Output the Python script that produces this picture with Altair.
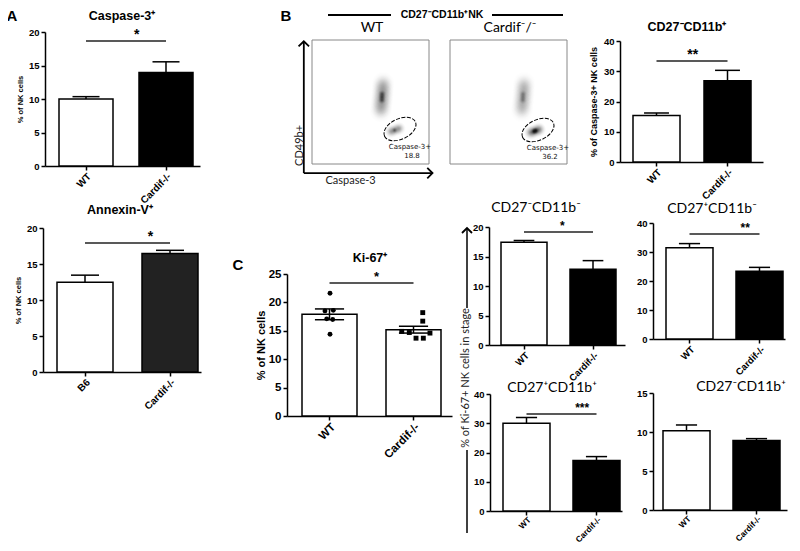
import altair as alt
import pandas as pd

# ====================== DATA ======================
GROUPS = ["WT", "Cardif-/-"]
GROUPS_B6 = ["B6", "Cardif-/-"]

casp3_mean = [10.0, 13.95]
casp3_sem = [0.35, 1.6]
casp3_sig = ("*", 18.66)

annexin_mean = [12.45, 16.45]
annexin_sem = [1.0, 0.45]
annexin_sig = ("*", 17.9)

late_casp3_mean = [15.4, 26.9]
late_casp3_sem = [0.8, 3.4]
late_casp3_sig = ("**", 33.4)

ki67_mean = [17.9, 15.2]
ki67_sem = [0.95, 0.6]
ki67_sig = ("*", 23.4)
ki67_wt_values = [21.6, 18.5, 18.6, 17.1, 17.0, 14.4]
ki67_wt_spread = [0.006, -0.054, 0.045, -0.033, 0.038, 0.006]
ki67_ko_values = [18.2, 16.7, 14.9, 14.7, 13.7, 13.7, 14.6]
ki67_ko_spread = [0.11, 0.11, -0.14, -0.05, 0.03, 0.117, 0.196]

stage_names = ["CD27⁻CD11b⁻", "CD27⁺CD11b⁻", "CD27⁺CD11b⁺", "CD27⁻CD11b⁺"]
stage_mean = [[17.4, 12.85], [31.5, 23.4], [30.0, 17.3], [10.15, 8.9]]
stage_sem = [[0.3, 1.45], [1.4, 1.3], [2.0, 1.3], [0.75, 0.25]]
stage_ymax = [20, 40, 40, 15]
stage_ticks = [[0, 5, 10, 15, 20], [0, 10, 20, 30, 40], [0, 10, 20, 30, 40], [0, 5, 10, 15]]
stage_sig = [("*", 19.15), ("**", 36.2), ("***", 33.2), None]

flow_groups = ["WT", "Cardif⁻/⁻"]
gate_pct = [18.8, 36.2]
gate_center = [(0.752, 0.282), (0.752, 0.274)]
# density cells of the two populations:
# (group, Caspase-3 rel., CD49b rel., spread rel. to plot width, density)
density_cells = [
    # WT, CD49b+ Caspase-3- population: halo
    (0, 0.588, 0.427, 0.22, 0.16), (0, 0.591, 0.459, 0.22, 0.18), (0, 0.594, 0.492, 0.22, 0.2),
    (0, 0.598, 0.524, 0.22, 0.2), (0, 0.601, 0.556, 0.22, 0.2), (0, 0.604, 0.589, 0.22, 0.2),
    (0, 0.606, 0.621, 0.22, 0.18), (0, 0.608, 0.653, 0.22, 0.16),
    # WT, CD49b+ Caspase-3- population: core
    (0, 0.597, 0.515, 0.08, 0.55), (0, 0.598, 0.540, 0.08, 0.6), (0, 0.599, 0.565, 0.08, 0.55),
    # WT, Caspase-3+ population
    (0, 0.676, 0.262, 0.13, 0.35), (0, 0.710, 0.274, 0.13, 0.35), (0, 0.744, 0.286, 0.13, 0.35),
    (0, 0.705, 0.272, 0.06, 0.40),
    # Cardif-/-, CD49b+ Caspase-3- population: halo
    (1, 0.614, 0.427, 0.22, 0.12), (1, 0.617, 0.459, 0.22, 0.14), (1, 0.620, 0.492, 0.22, 0.15),
    (1, 0.624, 0.524, 0.22, 0.15), (1, 0.627, 0.556, 0.22, 0.15), (1, 0.630, 0.589, 0.22, 0.15),
    (1, 0.632, 0.621, 0.22, 0.14), (1, 0.634, 0.653, 0.22, 0.12),
    # Cardif-/-, CD49b+ Caspase-3- population: core
    (1, 0.622, 0.515, 0.08, 0.3), (1, 0.623, 0.540, 0.08, 0.3), (1, 0.624, 0.565, 0.08, 0.3),
    # Cardif-/-, Caspase-3+ population
    (1, 0.692, 0.254, 0.14, 0.45), (1, 0.726, 0.266, 0.14, 0.45), (1, 0.760, 0.278, 0.14, 0.45),
    (1, 0.718, 0.263, 0.07, 0.90), (1, 0.734, 0.269, 0.07, 0.90),
]

# ====================== LAYOUT (reference page pixels) ======================
W, H, M = 784, 535, 8
ARIAL = "Liberation Sans"
CAL = "Lato"

LAYOUT = {
    "A1": {"ax": (45, 200), "y0": 166, "ytop": 32, "bars": (59, 113, 139)},
    "A2": {"ax": (43, 201), "y0": 372, "ytop": 228, "bars": (57, 113, 142)},
    "B": {"ax": (620, 763), "y0": 162, "ytop": 41, "bars": (633, 680, 704)},
    "K": {"ax": (287, 452), "y0": 416, "ytop": 274, "bars": (302, 357, 386)},
    "C1": {"ax": (489, 625), "y0": 345, "ytop": 227, "bars": (501, 547, 570)},
    "C2": {"ax": (653, 785), "y0": 339, "ytop": 223, "bars": (666, 713, 736)},
    "C3": {"ax": (490, 622), "y0": 511, "ytop": 394, "bars": (503, 550, 573)},
    "C4": {"ax": (653, 787), "y0": 510, "ytop": 393, "bars": (663, 710, 733)},
    "flow": [(312, 429, 40, 164), (450, 567, 40, 164)],
}


def pc(v):
    return v - M


def band(ax0, ax1, b1, e1, b2):
    step = b2 - b1
    bw = e1 - b1
    pi = 1 - bw / step
    span = ax1 - ax0
    po = max(0.0, (span / step - (2 - pi)) / 2)
    left = span - step * (2 - pi)
    al = min(1.0, max(0.0, (b1 - ax0) / left)) if left > 0 else 0.5
    return pi, po, al, step, bw


def axis_style(fs):
    return dict(labelFont=ARIAL, labelFontWeight="bold", labelFontSize=fs, labelColor="black",
                domainColor="black", domainWidth=1.5, tickColor="black", tickWidth=1.5,
                tickSize=4, grid=False)


def bar_panel(key, cats, means, sems, fills, ticks, ymax, ytitle=None, sig=None,
              both=False, xfs=10, yfs=9.5, tfs=7.5, tpad=4, cap_frac=0.5, star_fs=14, lpad=1):
    P = LAYOUT[key]
    ax0, ax1 = P["ax"]
    b1, e1, b2 = P["bars"]
    pi, po, al, step, bw = band(ax0, ax1, b1, e1, b2)

    def xs():
        return alt.Scale(domain=cats, range=[pc(ax0), pc(ax1)], paddingInner=pi,
                         paddingOuter=po, align=al)

    def ys():
        return alt.Scale(domain=[0, ymax], range=[pc(P["y0"]), pc(P["ytop"])], nice=False, zero=False)

    xaxis = alt.Axis(orient="bottom", offset=pc(P["y0"]) - H, title=None, labelAngle=315,
                     labelPadding=lpad, **axis_style(xfs))
    yargs = dict(orient="left", offset=-pc(ax0), values=ticks, labelPadding=2, **axis_style(yfs))
    if ytitle:
        yargs.update(title=ytitle, titleFont=ARIAL, titleFontWeight="bold", titleFontSize=tfs,
                     titleColor="black", titlePadding=tpad)
    else:
        yargs.update(title=None)
    yaxis = alt.Axis(**yargs)

    df = pd.DataFrame({"g": cats, "m": means,
                       "hi": [m + s for m, s in zip(means, sems)],
                       "lo": [m - s for m, s in zip(means, sems)],
                       "f": fills})

    def X(axis=None):
        return alt.X("g:N", scale=xs(), axis=axis, sort=cats)

    def Y(f, axis=None):
        return alt.Y(f, scale=ys(), axis=axis)

    layers = [
        alt.Chart(df).mark_bar(stroke="black", strokeWidth=1.5).encode(
            x=X(xaxis), y=Y("m:Q", yaxis), fill=alt.Fill("f:N", scale=None)),
        alt.Chart(df).mark_rule(color="black", strokeWidth=1.5).encode(
            x=X(), y=Y("lo:Q" if both else "m:Q"), y2="hi"),
    ]
    caps = [{"g": g, "v": h} for g, h in zip(cats, df["hi"])]
    if both:
        caps += [{"g": g, "v": lo} for g, lo in zip(cats, df["lo"])]
    layers.append(alt.Chart(pd.DataFrame(caps)).mark_tick(
        color="black", thickness=1.5, size=bw * cap_frac, opacity=1).encode(x=X(), y=Y("v:Q")))
    if sig:
        sdf = pd.DataFrame({"g": [cats[0]], "g2": [cats[1]], "v": [sig[1]], "t": [sig[0]]})
        layers.append(alt.Chart(sdf).mark_rule(color="#222", strokeWidth=1.5).encode(
            x=X(), x2="g2", y=Y("v:Q")))
        layers.append(alt.Chart(sdf).mark_text(
            font=ARIAL, fontWeight="bold", fontSize=star_fs, dx=step / 2, dy=-6,
            align="center", baseline="middle", color="black").encode(
            x=X(), y=Y("v:Q"), text="t:N"))
    return layers


# ---------------- bar panels ----------------
units = []
units += bar_panel("A1", GROUPS, casp3_mean, casp3_sem, ["white", "black"],
                   [0, 5, 10, 15, 20], 20, ytitle="% of NK cells", sig=casp3_sig)
units += bar_panel("A2", GROUPS_B6, annexin_mean, annexin_sem, ["white", "#222"],
                   [0, 5, 10, 15, 20], 20, ytitle="% of NK cells", sig=annexin_sig)
units += bar_panel("B", GROUPS, late_casp3_mean, late_casp3_sem, ["white", "black"],
                   [0, 10, 20, 30, 40], 40, ytitle="% of Caspase-3+ NK cells", sig=late_casp3_sig,
                   tfs=9, tpad=5, cap_frac=0.53)
units += bar_panel("K", GROUPS, ki67_mean, ki67_sem, ["white", "white"],
                   [0, 5, 10, 15, 20, 25], 25, ytitle="% of NK cells", sig=ki67_sig, both=True,
                   xfs=11.5, yfs=11.5, tfs=11, tpad=2, cap_frac=0.53, star_fs=13)
for i, key in enumerate(["C1", "C2", "C3", "C4"]):
    low = i >= 2
    units += bar_panel(key, GROUPS, stage_mean[i], stage_sem[i], ["white", "black"],
                       stage_ticks[i], stage_ymax[i], sig=stage_sig[i],
                       xfs=8.3 if low else 9.5, lpad=0 if low else 1,
                       yfs=9.5, cap_frac=0.45, star_fs=12)

# ---------------- Ki-67 individual mice ----------------
K = LAYOUT["K"]
_, _, _, kstep, kbw = band(K["ax"][0], K["ax"][1], *K["bars"])
kc1 = K["bars"][0] + kbw / 2
kc2 = K["bars"][2] + kbw / 2
dot_rows = [{"pos": 0 + s, "v": v, "sh": "circle"} for v, s in zip(ki67_wt_values, ki67_wt_spread)]
dot_rows += [{"pos": 1 + s, "v": v, "sh": "square"} for v, s in zip(ki67_ko_values, ki67_ko_spread)]
units.append(alt.Chart(pd.DataFrame(dot_rows)).mark_point(filled=True, color="black", opacity=1, size=24).encode(
    x=alt.X("pos:Q", scale=alt.Scale(domain=[0, 1], range=[pc(kc1), pc(kc2)], nice=False, zero=False), axis=None),
    y=alt.Y("v:Q", scale=alt.Scale(domain=[0, 25], range=[pc(K["y0"]), pc(K["ytop"])], nice=False, zero=False), axis=None),
    shape=alt.Shape("sh:N", scale=None),
))

# ---------------- flow cytometry plots ----------------
ELLIPSE = "M-1,0 A1,0.6 0 1,1 1,0 A1,0.6 0 1,1 -1,0 Z"
CHEV_UP = "M-1,1 L0,0 L1,1"
CHEV_RIGHT = "M-1,-1 L0,0 L-1,1"
BLOB = alt.RadialGradient(gradient="radial", stops=[
    alt.GradientStop(color="rgba(0,0,0,1)", offset=0),
    alt.GradientStop(color="rgba(0,0,0,0.75)", offset=0.25),
    alt.GradientStop(color="rgba(0,0,0,0.4)", offset=0.5),
    alt.GradientStop(color="rgba(0,0,0,0.12)", offset=0.75),
    alt.GradientStop(color="rgba(0,0,0,0)", offset=1),
])


def flow_panel(i):
    x0, x1, yt, yb = LAYOUT["flow"][i]
    bw = x1 - x0

    def X(f):
        return alt.X(f, scale=alt.Scale(domain=[0, 1], range=[pc(x0), pc(x1)], nice=False, zero=False), axis=None)

    def Y(f):
        return alt.Y(f, scale=alt.Scale(domain=[0, 1], range=[pc(yb), pc(yt)], nice=False, zero=False), axis=None)

    frame = alt.Chart(pd.DataFrame({"a": [0], "b": [1]})).mark_rect(
        fillOpacity=0, stroke="#888", strokeWidth=1).encode(x=X("a:Q"), x2="b", y=Y("a:Q"), y2="b")
    cells = [c for c in density_cells if c[0] == i]
    cdf = pd.DataFrame({"x": [c[1] for c in cells], "y": [c[2] for c in cells],
                        "s": [3.1416 * (c[3] * bw) ** 2 / 4 for c in cells],
                        "o": [c[4] for c in cells]})
    blobs = alt.Chart(cdf).mark_circle(fill=BLOB, strokeWidth=0).encode(
        x=X("x:Q"), y=Y("y:Q"), size=alt.Size("s:Q", scale=None), opacity=alt.Opacity("o:Q", scale=None))
    gdf = pd.DataFrame({"x": [gate_center[i][0]], "y": [gate_center[i][1]],
                        "t1": ["Caspase-3+"], "t2": [f"{gate_pct[i]:.1f}"]})
    gate = alt.Chart(gdf).mark_point(shape=ELLIPSE, filled=False, color="black", strokeWidth=1,
                                     strokeDash=[4, 1.5], size=1156, angle=335, opacity=1).encode(
        x=X("x:Q"), y=Y("y:Q"))
    t1 = alt.Chart(gdf).mark_text(font="DejaVu Sans", fontSize=7, dx=10, dy=18, color="#111").encode(
        x=X("x:Q"), y=Y("y:Q"), text="t1:N")
    t2 = alt.Chart(gdf).mark_text(font="DejaVu Sans", fontSize=7, dx=12, dy=27, color="#111").encode(
        x=X("x:Q"), y=Y("y:Q"), text="t2:N")
    layers = [frame, blobs, gate, t1, t2]
    if i == 0:
        adf = pd.DataFrame({"x": [-0.07], "y": [-0.073], "xe": [1.03], "ye": [0.99]})
        layers += [
            alt.Chart(adf).mark_rule(color="black", strokeWidth=1.8).encode(x=X("x:Q"), y=Y("y:Q"), y2="ye"),
            alt.Chart(adf).mark_rule(color="black", strokeWidth=1.8).encode(x=X("x:Q"), x2="xe", y=Y("y:Q")),
            alt.Chart(adf).mark_point(shape=CHEV_UP, filled=False, color="black", strokeWidth=1.8,
                                      size=110, opacity=1).encode(x=X("x:Q"), y=Y("ye:Q")),
            alt.Chart(adf).mark_point(shape=CHEV_RIGHT, filled=False, color="black", strokeWidth=1.8,
                                      size=110, opacity=1).encode(x=X("xe:Q"), y=Y("y:Q")),
            alt.Chart(pd.DataFrame({"x": [-0.104], "y": [0.15], "t": ["CD49b+"]})).mark_text(
                font=CAL, fontSize=11, angle=270, color="#222").encode(x=X("x:Q"), y=Y("y:Q"), text="t:N"),
            alt.Chart(pd.DataFrame({"x": [0.33], "y": [-0.137], "t": ["Caspase-3"]})).mark_text(
                font=CAL, fontSize=11, color="#222").encode(x=X("x:Q"), y=Y("y:Q"), text="t:N"),
        ]
    return layers


units += flow_panel(0)
units += flow_panel(1)


# ---------------- annotations (page coordinates) ----------------
def AX(f):
    return alt.X(f, scale=alt.Scale(domain=[0, W], range=[0, W], nice=False, zero=False), axis=None)


def AY(f):
    return alt.Y(f, scale=alt.Scale(domain=[0, H], range=[0, H], nice=False, zero=False), axis=None)


def ann_text(rows, font, size, weight="normal", angle=0, color="black"):
    df = pd.DataFrame({"t": [r[0] for r in rows], "x": [pc(r[1]) for r in rows], "y": [pc(r[2]) for r in rows]})
    return alt.Chart(df).mark_text(font=font, fontSize=size, fontWeight=weight, angle=angle,
                                   align="center", baseline="middle", color=color).encode(
        x=AX("x:Q"), y=AY("y:Q"), text="t:N")


def ann_rules(rows, width):
    df = pd.DataFrame({"x": [pc(r[0]) for r in rows], "x2": [pc(r[1]) for r in rows],
                       "y": [pc(r[2]) for r in rows], "y2": [pc(r[3]) for r in rows]})
    return alt.Chart(df).mark_rule(color="black", strokeWidth=width).encode(
        x=AX("x:Q"), x2="x2", y=AY("y:Q"), y2="y2")


units += [
    ann_text([("A", 12, 16), ("B", 286, 16), ("C", 238, 265)], ARIAL, 15, "bold"),
    ann_text([("Caspase-3⁺", 122, 16), ("Annexin-V⁺", 120, 210), ("CD27⁻CD11b⁺", 687, 27),
              ("Ki-67⁺", 370, 258)], ARIAL, 12.5, "bold"),
    ann_text([("CD27⁻CD11b⁺NK", 442, 15)], ARIAL, 10.5, "bold"),
    ann_text([(flow_groups[0], 372, 28), (flow_groups[1], 510, 28)], CAL, 14),
    ann_text([(stage_names[0], 536, 208), (stage_names[1], 712, 209),
              (stage_names[2], 552, 388), (stage_names[3], 741, 387)], CAL, 14),
    ann_text([("% of Ki-67+ NK cells in stage", 466, 378)], CAL, 11, angle=270, color="#222"),
    ann_rules([(328, 391, 15, 15), (492, 563, 15, 15)], 2),
    ann_rules([(467, 467, 229, 308), (467, 467, 450, 533)], 1.5),
    alt.Chart(pd.DataFrame({"x": [pc(467)], "y": [pc(228)]})).mark_point(
        shape=CHEV_UP, filled=False, color="black", strokeWidth=1.8, size=100, opacity=1).encode(
        x=AX("x:Q"), y=AY("y:Q")),
]

chart = alt.layer(*units).resolve_scale(x="independent", y="independent").resolve_axis(
    x="independent", y="independent"
).properties(
    width=W, height=H, padding=0, autosize=alt.AutoSizeParams(type="none")
).configure_view(stroke="transparent").configure_axis(grid=False)

chart.save("out.html", embed_options={"renderer": "svg", "actions": False})
